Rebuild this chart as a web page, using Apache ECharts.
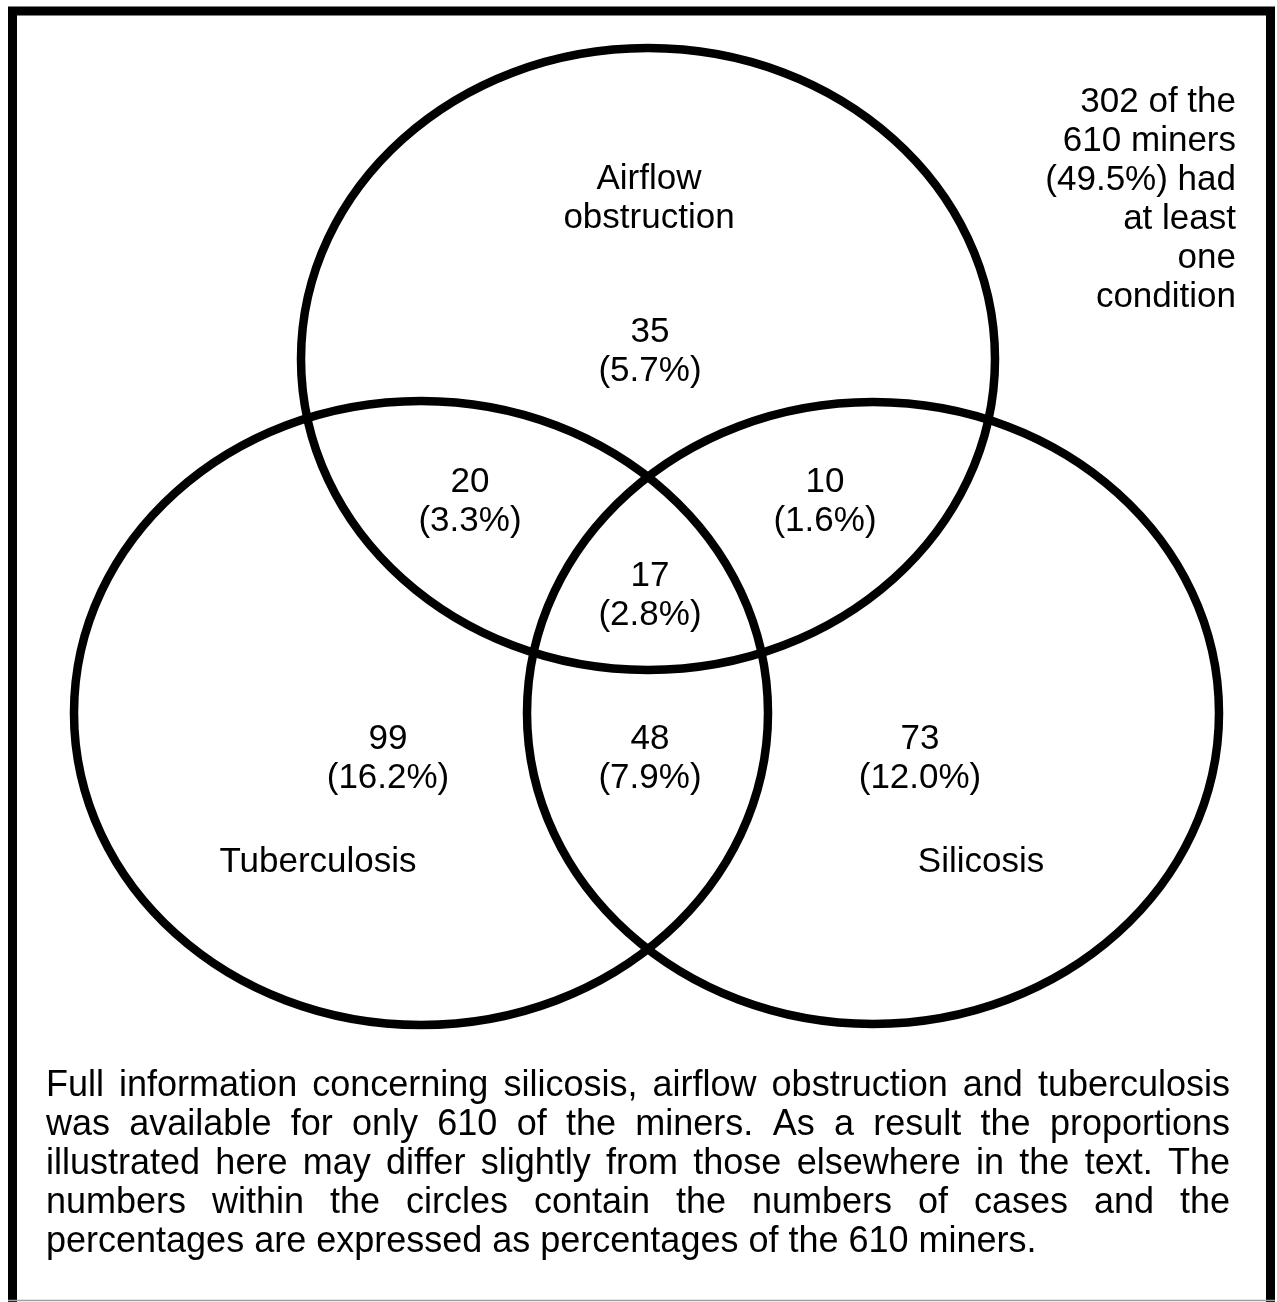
<!DOCTYPE html>
<html><head><meta charset="utf-8">
<script src="https://cdn.jsdelivr.net/npm/echarts@6/dist/echarts.min.js"></script>
<style>html,body{margin:0;padding:0;background:#fff}#chart{width:1277px;height:1302px}</style>
</head><body><div id="chart"></div>
<script>
// ---- Sets (ellipses) ----
const setNames = ['Airflow\nobstruction', 'Tuberculosis', 'Silicosis'];
const setCentersX = [648, 421, 873];
const setCentersY = [359, 713, 713];
const setRadiusX = [347, 347, 346];
const setRadiusY = [311, 312, 311];
const setLabelX = [649, 318, 981];
const setLabelY = [199, 862, 862];

// ---- Regions (counts and percentages of 610 miners) ----
const regionNames = ['Airflow only', 'Airflow + Tuberculosis', 'Airflow + Silicosis', 'All three',
  'Tuberculosis only', 'Tuberculosis + Silicosis', 'Silicosis only'];
const regionCounts = [35, 20, 10, 17, 99, 48, 73];
const regionPercents = ['5.7%', '3.3%', '1.6%', '2.8%', '16.2%', '7.9%', '12.0%'];
const regionLabelX = [650, 470, 825, 650, 388, 650, 920];
const regionLabelY = [352, 502, 502, 596, 759, 759, 759];

// ---- Texts ----
const noteLines = ['302 of the', '610 miners', '(49.5%) had', 'at least', 'one', 'condition'];
const captionLines = [
  'Full information concerning silicosis, airflow obstruction and tuberculosis',
  'was available for only 610 of the miners. As a result the proportions',
  'illustrated here may differ slightly from those elsewhere in the text. The',
  'numbers within the circles contain the numbers of cases and the',
  'percentages are expressed as percentages of the 610 miners.'
];

const FONT_FAMILY = '"Liberation Sans", Arial, sans-serif';
const FONT_SIZE = 35;
const CAP_FONT_SIZE = 36;
const LINE_H = 39;
const LABEL_FONT = FONT_SIZE + 'px ' + FONT_FAMILY;

const chart = echarts.init(document.getElementById('chart'), null, {renderer: 'canvas'});

// justified caption words
const measureCtx = document.createElement('canvas').getContext('2d');
measureCtx.font = CAP_FONT_SIZE + 'px ' + FONT_FAMILY;
const capLeft = 46, capRight = 1230, capTop = 1086;
const graphics = [];
captionLines.forEach(function (line, li) {
  const words = line.split(' ');
  const y = capTop + li * LINE_H;
  const widths = words.map(function (w) { return measureCtx.measureText(w).width; });
  const total = widths.reduce(function (a, b) { return a + b; }, 0);
  const last = li === captionLines.length - 1;
  const gap = last ? measureCtx.measureText(' ').width : (capRight - capLeft - total) / (words.length - 1);
  let x = capLeft;
  words.forEach(function (w, wi) {
    graphics.push({type: 'text', silent: true, x: x, y: y,
      style: {text: w, fill: '#000', font: CAP_FONT_SIZE + 'px ' + FONT_FAMILY, textAlign: 'left', textVerticalAlign: 'middle'}});
    x += widths[wi] + gap;
  });
});
// note, right aligned
graphics.push({type: 'text', silent: true, x: 1236, y: 200,
  style: {text: noteLines.join('\n'), fill: '#000', font: LABEL_FONT,
    lineHeight: LINE_H, textAlign: 'right', textVerticalAlign: 'middle'}});
// frame
graphics.push({type: 'rect', silent: true, z: 100,
  shape: {x: 12.5, y: 11, width: 1258, height: 1320},
  style: {fill: 'none', stroke: '#000', lineWidth: 9}});
graphics.push({type: 'line', silent: true, z: 101,
  shape: {x1: 8, y1: 1300.5, x2: 1275, y2: 1300.5},
  style: {stroke: '#a0a0a0', lineWidth: 1.5}});

const ellipseData = setNames.map(function (n, i) {
  return [setCentersX[i], setCentersY[i], setRadiusX[i], setRadiusY[i]];
});
const regionData = regionNames.map(function (n, i) {
  return [regionLabelX[i], regionLabelY[i], regionCounts[i], regionPercents[i]];
});
const setLabelData = setNames.map(function (n, i) {
  return [setLabelX[i], setLabelY[i], n];
});

function textItem(api, text) {
  const c = api.coord([api.value(0), api.value(1)]);
  return {
    type: 'text', x: c[0], y: c[1],
    style: {text: text, fill: '#000', font: LABEL_FONT, lineHeight: LINE_H,
      textAlign: 'center', textVerticalAlign: 'middle'}
  };
}

chart.setOption({
  animation: false,
  backgroundColor: '#fff',
  grid: {left: 0, right: 0, top: 0, bottom: 0},
  xAxis: {type: 'value', min: 0, max: 1277, show: false},
  yAxis: {type: 'value', min: 0, max: 1302, inverse: true, show: false},
  graphic: graphics,
  series: [
    {
      type: 'custom',
      silent: true,
      data: ellipseData,
      renderItem: function (params, api) {
        const c = api.coord([api.value(0), api.value(1)]);
        const e = api.coord([api.value(0) + api.value(2), api.value(1) + api.value(3)]);
        return {
          type: 'ellipse',
          shape: {cx: c[0], cy: c[1], rx: Math.abs(e[0] - c[0]), ry: Math.abs(e[1] - c[1])},
          style: {fill: 'none', stroke: '#000', lineWidth: 8.5}
        };
      }
    },
    {
      type: 'custom',
      silent: true,
      data: regionData,
      renderItem: function (params, api) {
        const i = params.dataIndex;
        return textItem(api, regionCounts[i] + '\n(' + regionPercents[i] + ')');
      }
    },
    {
      type: 'custom',
      silent: true,
      data: setLabelData,
      renderItem: function (params, api) {
        return textItem(api, setNames[params.dataIndex]);
      }
    }
  ]
});
</script>
</body></html>
